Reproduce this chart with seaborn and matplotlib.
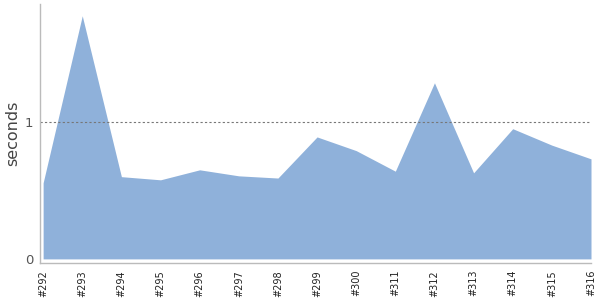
import matplotlib
matplotlib.use("Agg")
import matplotlib.pyplot as plt
import seaborn as sns
import numpy as np
import pandas as pd

builds = ["#292", "#293", "#294", "#295", "#296", "#297", "#298", "#299",
          "#300", "#311", "#312", "#313", "#314", "#315", "#316"]
seconds = [0.555, 1.774, 0.60, 0.577, 0.65, 0.606, 0.59, 0.89,
           0.79, 0.64, 1.285, 0.628, 0.95, 0.83, 0.73]

sns.set_style("white")
plt.rcParams['font.family'] = ['DejaVu Sans']

df = pd.DataFrame({"build": builds, "seconds": seconds})
df["pos"] = np.arange(len(df))

fig = plt.figure(figsize=(6, 3), dpi=100)
ax = fig.add_axes([40/600, 1 - 263/300, 551/600, 259/300])

sns.lineplot(data=df, x="pos", y="seconds", ax=ax, color="#8fb1da", linewidth=0)
ax.fill_between(df["pos"], 0, df["seconds"], color="#8fb1da", linewidth=0)
ax.axhline(1, color="#777777", linestyle=(0, (2, 2)), linewidth=0.8)

ax.set_xlim(-0.08, len(df) - 1)
ax.set_ylim(-0.03, 1.86)
ax.set_xticks(df["pos"])
ax.set_xticklabels(df["build"], rotation=90, fontsize=7, color="#222222")
ax.set_yticks([0, 1])
ax.set_yticklabels(["0", "1"], fontsize=9.5, color="#555555")
ax.set_xlabel("")
ax.set_ylabel("seconds", fontsize=11.5, color="#444444")
ax.yaxis.set_label_coords(-20/551, 0.5)

for s in ["top", "right"]:
    ax.spines[s].set_visible(False)
for s in ["left", "bottom"]:
    ax.spines[s].set_color("#bbbbbb")
    ax.spines[s].set_linewidth(1)
ax.tick_params(axis="both", length=3, color="#bbbbbb", pad=2)

fig.savefig("out.png", dpi=100)
